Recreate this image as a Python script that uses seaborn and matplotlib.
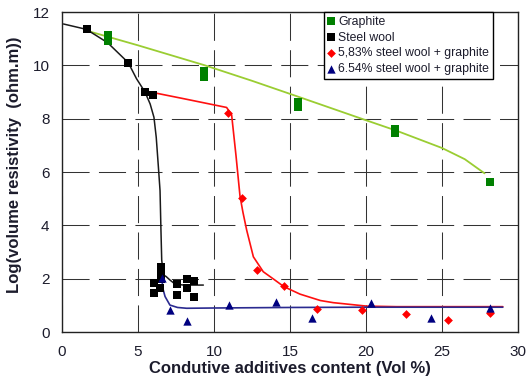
import matplotlib
matplotlib.use("Agg")
import matplotlib.pyplot as plt
import seaborn as sns

# ---------------- data ----------------
graphite_x = [3.05, 3.05, 9.35, 9.35, 15.55, 15.55, 21.9, 21.9, 28.15]
graphite_y = [11.12, 10.91, 9.80, 9.56, 8.62, 8.45, 7.61, 7.46, 5.64]

steel_x = [1.62, 4.36, 5.46, 5.97, 6.51, 6.51, 6.51, 6.07, 6.07, 6.45,
           7.59, 7.59, 8.20, 8.20, 8.70, 8.70]
steel_y = [11.35, 10.07, 9.01, 8.89, 2.45, 2.20, 1.98, 1.85, 1.45, 1.64,
           1.80, 1.39, 1.98, 1.64, 1.91, 1.30]

sw583_x = [10.94, 11.82, 12.81, 14.60, 16.80, 19.72, 22.63, 25.37, 28.16]
sw583_y = [8.22, 5.01, 2.33, 1.72, 0.85, 0.82, 0.66, 0.45, 0.72]

sw654_x = [6.56, 7.10, 8.20, 10.99, 14.08, 16.43, 20.33, 24.28, 28.16]
sw654_y = [2.01, 0.82, 0.42, 1.01, 1.11, 0.51, 1.10, 0.51, 0.89]

# trend curves
graphite_fit_x = [1.5, 5.0, 9.4, 12.5, 15.66, 19.7, 22.0, 25.0, 26.5, 27.8]
graphite_fit_y = [11.32, 10.75, 10.0, 9.42, 8.8, 8.0, 7.55, 6.9, 6.48, 5.95]

steel_fit_x = [0.1, 1.6, 3.0, 4.36, 4.9, 5.46, 5.8, 6.05, 6.2, 6.34, 6.45,
               6.51, 6.56, 6.67, 6.85, 7.1, 7.43, 8.0, 9.3]
steel_fit_y = [11.55, 11.35, 10.85, 10.1, 9.5, 9.0, 8.55, 8.05, 7.3, 6.2, 5.3,
               3.82, 2.7, 2.14, 2.08, 1.95, 1.8, 1.76, 1.76]

sw583_fit_x = [5.46, 8.0, 10.83, 11.16, 11.45, 11.71, 11.9, 12.15, 12.59, 13.24,
               14.0, 14.6, 15.66, 17.0, 17.85, 20.05, 22.0, 24.4, 29.0]
sw583_fit_y = [9.04, 8.75, 8.42, 8.14, 6.6, 5.1, 4.5, 3.82, 2.82, 2.26,
               1.95, 1.7, 1.42, 1.18, 1.1, 0.97, 0.95, 0.95, 0.95]

sw654_fit_x = [6.56, 6.65, 6.78, 7.1, 7.6, 8.2, 10.0, 15.0, 20.0, 25.0, 29.0]
sw654_fit_y = [2.0, 1.6, 1.33, 1.01, 0.92, 0.89, 0.9, 0.92, 0.93, 0.93, 0.93]

x_ticks = [0, 5, 10, 15, 20, 25, 30]
y_ticks = [0, 2, 4, 6, 8, 10, 12]

labels = ["Graphite", "Steel wool", "5,83% steel wool + graphite",
          "6.54% steel wool + graphite"]

# ---------------- plot ----------------
sns.set_style("white")
plt.rcParams["font.family"] = ["Liberation Sans", "DejaVu Sans"]
txt = "#1c1c2c"

fig = plt.figure(figsize=(5.32, 3.88), dpi=100)
ax = fig.add_axes([62/532, 1-332/388, 456/532, 320/388])

ax.grid(True, linestyle=(0, (26, 9)), color="#333333", linewidth=0.75)
ax.set_axisbelow(True)

curves = [
    (graphite_fit_x, graphite_fit_y, "#9acd32", 1.3),
    (steel_fit_x, steel_fit_y, "#1a1a1a", 1.1),
    (sw583_fit_x, sw583_fit_y, "#ff1010", 1.2),
    (sw654_fit_x, sw654_fit_y, "#2a2a90", 1.2),
]
for cx, cy, col, lw in curves:
    sns.lineplot(x=cx, y=cy, sort=False, estimator=None, color=col,
                 linewidth=lw, ax=ax, legend=False)

sns.scatterplot(x=graphite_x, y=graphite_y, marker="s", color="#008000",
                s=32, linewidth=0, label=labels[0], ax=ax, zorder=5)
sns.scatterplot(x=steel_x, y=steel_y, marker="s", color="black",
                s=32, linewidth=0, label=labels[1], ax=ax, zorder=5)
sns.scatterplot(x=sw583_x, y=sw583_y, marker="D", color="#ff0000",
                s=20, linewidth=0, label=labels[2], ax=ax, zorder=5)
sns.scatterplot(x=sw654_x, y=sw654_y, marker="^", color="#000080",
                s=36, linewidth=0, label=labels[3], ax=ax, zorder=5)

ax.set_xlim(0, 30)
ax.set_ylim(0, 12)
ax.set_xticks(x_ticks)
ax.set_yticks(y_ticks)
ax.tick_params(direction="inout", length=6, width=0.8, color="black",
               labelsize=11, labelcolor=txt)
ax.tick_params(axis="x", pad=6)
ax.tick_params(axis="y", pad=6)
for sp in ax.spines.values():
    sp.set_color("#222222")
    sp.set_linewidth(1.0)

ax.set_xlabel("Condutive additives content (Vol %)", fontsize=12,
              fontweight="bold", color=txt, labelpad=2)
ax.set_ylabel("Log(volume resistivity  (ohm.m))", fontsize=12,
              fontweight="bold", color=txt)
ax.yaxis.set_label_coords(-0.088, 0.522)

h, l = ax.get_legend_handles_labels()
leg = ax.legend(h, l, loc="upper right", bbox_to_anchor=(0.945, 1.0),
                borderaxespad=0, fontsize=8.8, frameon=True, fancybox=False,
                framealpha=1, edgecolor="black", handlelength=0.6,
                handletextpad=0.3, labelspacing=0.32, borderpad=0.3)
leg.get_frame().set_linewidth(1.0)
for t in leg.get_texts():
    t.set_color(txt)

fig.savefig("out.png", dpi=100)
